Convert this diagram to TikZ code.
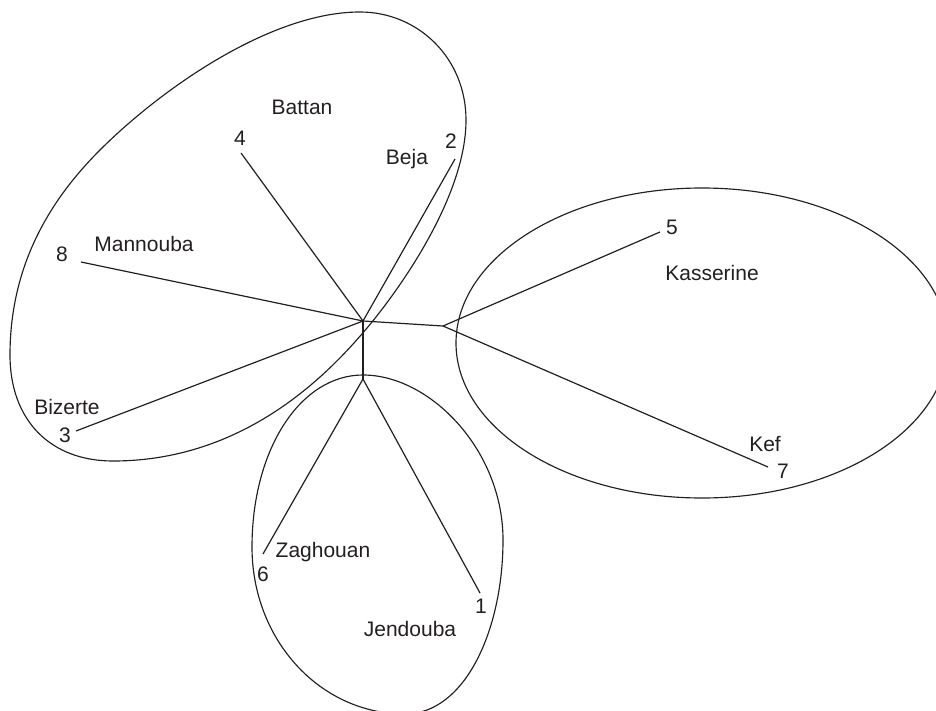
\documentclass[tikz,border=0pt]{standalone}
\usepackage{fontspec}
\setmainfont{Liberation Sans}
\definecolor{ink}{HTML}{231F20}
\begin{document}
\begin{tikzpicture}[x=1pt,y=-1pt,
  lbl/.style={font=\fontsize{21}{24}\selectfont, text=ink, inner sep=0pt},
  edge/.style={draw=ink, line width=1.2pt, line join=round},
  blob/.style={draw=ink, line width=1.15pt}]
\useasboundingbox (0,0) rectangle (936,711);
\begin{scope}
\clip (0,0) rectangle (936,711);
% left blob
\draw[blob] (360,12) .. controls (418,12) and (466,58) .. (466,120)
  .. controls (466,190) and (410,275) .. (372,322)
  .. controls (335,367) and (250,461) .. (113,461)
  .. controls (50,461) and (10,420) .. (10,355)
  .. controls (10,260) and (55,195) .. (100,150)
  .. controls (160,90) and (270,12) .. cycle;
% right ellipse
\draw[blob] (702,343) ellipse [x radius=246pt, y radius=155pt];
% bottom blob
\draw[blob] (363,375) .. controls (430,375) and (503,450) .. (503,540)
  .. controls (503,630) and (465,714) .. (405,714)
  .. controls (320,714) and (252,640) .. (252,547)
  .. controls (252,450) and (300,375) .. cycle;
\end{scope}
% tree nodes
\coordinate (A) at (363,321);
\coordinate (B) at (443,326);
\coordinate (C) at (363,379);
\coordinate (l4) at (241,153);
\coordinate (l2) at (455,159);
\coordinate (l8) at (81,262);
\coordinate (l3) at (76,431);
\coordinate (l5) at (660,232);
\coordinate (l7) at (768,467);
\coordinate (l6) at (263,554);
\coordinate (l1) at (480,593);
\draw[edge] (A) -- (B);
\draw[edge] (A) -- (C);
\draw[edge] (A) -- (l4);
\draw[edge] (A) -- (l2);
\draw[edge] (A) -- (l8);
\draw[edge] (A) -- (l3);
\draw[edge] (B) -- (l5);
\draw[edge] (B) -- (l7);
\draw[edge] (C) -- (l6);
\draw[edge] (C) -- (l1);
% labels
\node[lbl] (n4) at (240,138) {4};
\node[lbl] (n2) at (451,141) {2};
\node[lbl] (n8) at (62,254) {8};
\node[lbl] (n3) at (65,435) {3};
\node[lbl] (n5) at (672,227) {5};
\node[lbl] (n7) at (783,471) {7};
\node[lbl] (n6) at (263,574) {6};
\node[lbl] (n1) at (481,606) {1};
\node[lbl] (tBattan) at (302,107) {Battan};
\node[lbl] (tBeja) at (407,159) {Beja};
\node[lbl] (tMannouba) at (144,244) {Mannouba};
\node[lbl] (tBizerte) at (67,407) {Bizerte};
\node[lbl] (tKasserine) at (712,273) {Kasserine};
\node[lbl] (tKef) at (765,444) {Kef};
\node[lbl] (tZaghouan) at (323,552) {Zaghouan};
\node[lbl] (tJendouba) at (410,629) {Jendouba};
\end{tikzpicture}
\end{document}
